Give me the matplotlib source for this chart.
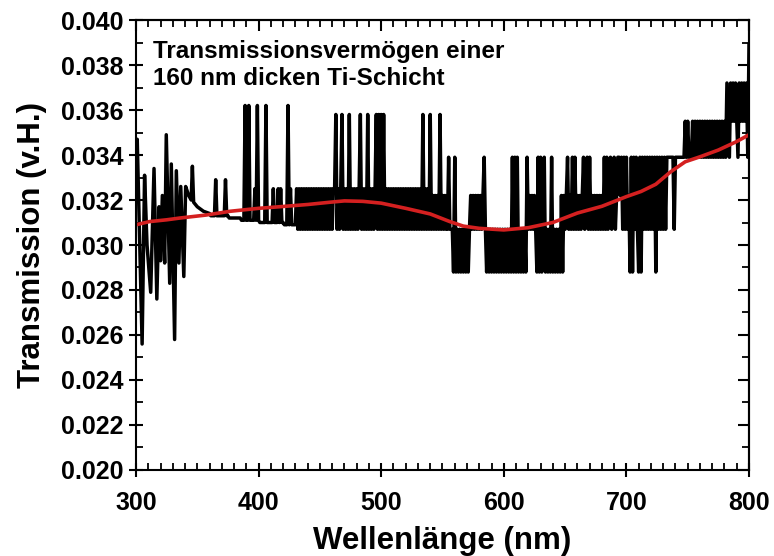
import numpy as np
import matplotlib
matplotlib.use("Agg")
import matplotlib.pyplot as plt
from matplotlib.ticker import MultipleLocator, FormatStrFormatter

# -----------------------------
# Data
# -----------------------------

# noisy start of the measured spectrum (nm, transmission)
wl_start = [300, 301, 305, 307, 309, 312, 314.7, 317, 318.8, 320, 321.5, 323.4,
            324.7, 327.5, 328.8, 331.5, 332.9, 335, 336.5, 339, 340.5, 343, 345,
            346, 347, 350, 355, 360]
tr_start = [0.0327, 0.0347, 0.0256, 0.0331, 0.0300, 0.0279, 0.0334, 0.0276, 0.0317,
            0.0293, 0.0322, 0.0292, 0.0349, 0.0283, 0.0336, 0.0258, 0.0333, 0.0292,
            0.0326, 0.0286, 0.0326, 0.0322, 0.0320, 0.0335, 0.0319, 0.0317, 0.0315,
            0.0314]

# quantised detector levels of the rest of the spectrum
level_codes = ["A", "B", "C", "D", "E", "F", "G", "K", "L", "M",
               "N", "P", "Q", "R", "S", "T"]
level_values = [0.0288, 0.0307, 0.0309, 0.0310, 0.0311, 0.0312, 0.0313, 0.0322,
                0.0325, 0.0329, 0.0339, 0.0355, 0.0358, 0.0362, 0.0372, 0.0389]

# one code per nm, each chunk starts at the given wavelength
chunk_start = [361, 431, 461, 541, 621, 701, 781]
chunk_codes = [
    "GGGGMGGGGG" "GGMGGFFFFF" "FFFFFEEERE" "EREEEELERE" "DDDDDRDDDD" "DLDDDLDLDD" "CCCRCLCCCC",
    "LBLBLBLBLBLBLBLBLBLBLBLBLBLBLB",
    "LLQBLBLQBL" "BLBQBLBLBL" "BLQBLBLBQB" "LBLBLQBQBQ" "BQBLBLBLBL" "BLBLBLBLBL" "BLBLBLBLBL" "BLBQBLBLBQ",
    "BKBKBKBQBK" "BKBBNBBBAN" "ABABABABAB" "ABKBKBKBKB" "KBKNBABABA" "BABABABABA" "BABABANANA" "NABABABANB",
    "KBKBKBANAN" "ABNABABANA" "BABABAKAKB" "KNBKBNBNBK" "BKBKNBKNBN" "BKBKBKBKBK" "BNBNBKNBKN" "BKNNKNBNBN",
    "BKANANBNBA" "NANBNBNBNB" "NBNANBNBNB" "NBNNNNNNBN" "NNNNNNNPNP" "NNNPNPNPNP" "NPNPNPNPNP" "NPNPNPNPNP",
    "NSPNSPSPSP" "NSPSPSPSNT",
]

# smoothed curve (red)
wl_fit = [300, 311, 325, 336, 357, 377, 400, 417, 440, 458, 470, 485, 500, 520, 540,
          556, 567, 580, 600, 620, 640, 660, 680, 700, 712, 724, 736, 748, 760, 775,
          790, 800]
tr_fit = [0.03090, 0.03104, 0.03112, 0.03120, 0.03133, 0.03150, 0.03163, 0.03170,
          0.03180, 0.03190, 0.03196, 0.03194, 0.03186, 0.03163, 0.03138, 0.03104,
          0.03084, 0.03074, 0.03067, 0.03077, 0.03100, 0.03142, 0.03172, 0.03215,
          0.03238, 0.03270, 0.03325, 0.03370, 0.03392, 0.03422, 0.03460, 0.03490]

# -----------------------------
# Build the measured trace
# -----------------------------
lookup = dict(zip(level_codes, level_values))
wl = list(wl_start)
tr = list(tr_start)
for start, codes in zip(chunk_start, chunk_codes):
    for i, c in enumerate(codes):
        wl.append(start + i)
        tr.append(lookup[c])

# -----------------------------
# Plot
# -----------------------------
plt.rcParams['font.family'] = ['Liberation Sans', 'DejaVu Sans']
plt.rcParams['font.weight'] = 'bold'

fig = plt.figure(figsize=(7.74, 5.56), dpi=100)
ax = fig.add_axes([0.1757, 0.1547, 0.7920, 0.8093])

ax.plot(wl, tr, color='black', linewidth=2.5)
ax.plot(wl_fit, tr_fit, color='#d42020', linewidth=2.6)

ax.set_xlim(300, 800)
ax.set_ylim(0.020, 0.040)
ax.xaxis.set_major_locator(MultipleLocator(100))
ax.xaxis.set_minor_locator(MultipleLocator(10))
ax.yaxis.set_major_locator(MultipleLocator(0.002))
ax.yaxis.set_minor_locator(MultipleLocator(0.001))
ax.yaxis.set_major_formatter(FormatStrFormatter('%.3f'))

for s in ax.spines.values():
    s.set_linewidth(1.5)

ax.tick_params(which='major', direction='inout', length=10, width=1.5,
               labelsize=18, pad=4)
ax.tick_params(axis='x', which='major', pad=10)
ax.tick_params(which='minor', direction='in', length=5, width=1.3)

# top / right ticks pointing inwards, no labels
top = ax.secondary_xaxis('top')
top.xaxis.set_major_locator(MultipleLocator(100))
top.xaxis.set_minor_locator(MultipleLocator(10))
top.tick_params(which='major', direction='in', length=8, width=1.5, labeltop=False)
top.tick_params(which='minor', direction='in', length=5, width=1.3)
right = ax.secondary_yaxis('right')
right.yaxis.set_major_locator(MultipleLocator(0.002))
right.yaxis.set_minor_locator(MultipleLocator(0.001))
right.tick_params(which='major', direction='in', length=8, width=1.5, labelright=False)
right.tick_params(which='minor', direction='in', length=5, width=1.3)
for sec in (top, right):
    for s in sec.spines.values():
        s.set_linewidth(1.5)

ax.set_xlabel("Wellenlänge (nm)", fontsize=22.5, fontweight='bold', labelpad=8)
ax.set_ylabel("Transmission (v.H.)", fontsize=22.5, fontweight='bold', labelpad=10)

ax.text(0.027, 0.955, "Transmissionsvermögen einer\n160 nm dicken Ti-Schicht",
        transform=ax.transAxes, fontsize=17.5, fontweight='bold', va='top', ha='left',
        linespacing=1.2)

fig.savefig("out.png", dpi=100)
